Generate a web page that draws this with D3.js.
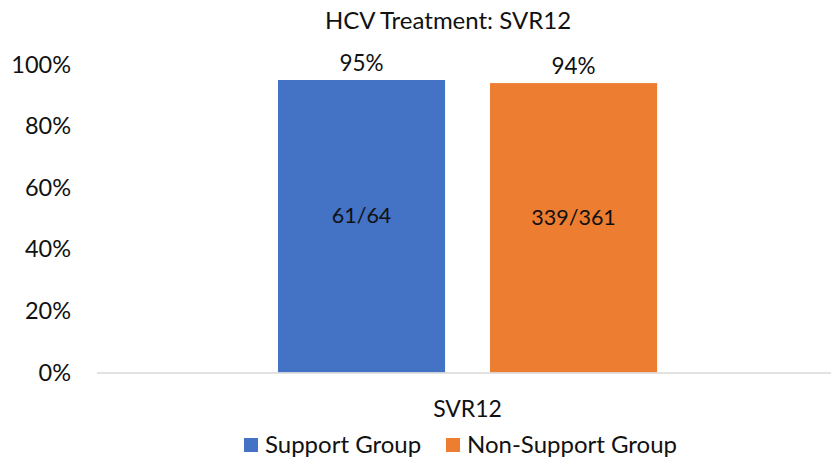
<!DOCTYPE html>
<html>
<head>
<meta charset="utf-8">
<script src="https://cdn.jsdelivr.net/npm/d3@7"></script>
<style>
  body { margin: 0; background: #fff; }
  svg text { font-family: Lato, "Open Sans", sans-serif; fill: #111; }
</style>
</head>
<body>
<svg width="831" height="457"></svg>
<script>
// chart data
var title = "HCV Treatment: SVR12";
var categories = ["SVR12"];
var seriesNames = ["Support Group", "Non-Support Group"];
var seriesValues = [0.95, 0.94];
var valueLabels = ["95%", "94%"];
var countLabels = ["61/64", "339/361"];
var yTicks = [0, 0.2, 0.4, 0.6, 0.8, 1.0];
var colors = ["#4472C4", "#ED7D31"];

var svg = d3.select("svg"),
    width = +svg.attr("width"),
    height = +svg.attr("height");

var x0 = d3.scaleBand()
    .domain(categories)
    .range([97, 831])
    .paddingInner(0)
    .paddingOuter(0.468)
    .align(0.51);

var x1 = d3.scaleBand()
    .domain(seriesNames)
    .range([0, x0.bandwidth()])
    .paddingInner(0.212)
    .paddingOuter(0);

var y = d3.scaleLinear()
    .domain([0, 1])
    .range([372.5, 64.6]);

var color = d3.scaleOrdinal().domain(seriesNames).range(colors);

// title
svg.append("text")
    .attr("x", 448)
    .attr("y", 29)
    .attr("text-anchor", "middle")
    .style("font-size", "24px")
    .text(title);

// y axis labels (no axis line, no gridlines)
var yAxis = d3.axisLeft(y)
    .tickValues(yTicks)
    .tickFormat(d3.format(".0%"))
    .tickSize(0)
    .tickPadding(0);

var yg = svg.append("g")
    .attr("transform", "translate(71,0)")
    .call(yAxis);
yg.select(".domain").remove();
yg.selectAll("text")
    .attr("fill", "#111")
    .style("font-size", "23.5px")
    .style("font-family", "Lato, sans-serif");

// bars
var data = seriesNames.map(function(s, i) {
    return {name: s, value: seriesValues[i], label: valueLabels[i], count: countLabels[i]};
});

var group = svg.append("g")
    .attr("transform", "translate(" + x0(categories[0]) + ",0)");

group.selectAll("rect")
    .data(data)
    .enter().append("rect")
    .attr("x", function(d) { return x1(d.name); })
    .attr("y", function(d) { return y(d.value); })
    .attr("width", x1.bandwidth())
    .attr("height", function(d) { return y(0) - y(d.value); })
    .attr("fill", function(d) { return color(d.name); });

// value labels above bars
group.selectAll(".val")
    .data(data)
    .enter().append("text")
    .attr("class", "val")
    .attr("x", function(d) { return x1(d.name) + x1.bandwidth() / 2; })
    .attr("y", function(d) { return y(d.value) - 9; })
    .attr("text-anchor", "middle")
    .style("font-size", "22.5px")
    .text(function(d) { return d.label; });

// count labels inside bars
group.selectAll(".cnt")
    .data(data)
    .enter().append("text")
    .attr("class", "cnt")
    .attr("x", function(d) { return x1(d.name) + x1.bandwidth() / 2; })
    .attr("y", function(d) { return y(d.value / 2) - 3; })
    .attr("text-anchor", "middle")
    .style("font-size", "21.5px")
    .text(function(d) { return d.count; });

// x axis baseline
svg.append("line")
    .attr("x1", x0.range()[0])
    .attr("x2", x0.range()[1])
    .attr("y1", y(0) + 0.5)
    .attr("y2", y(0) + 0.5)
    .attr("stroke", "#D9D9D9")
    .attr("stroke-width", 1.5);

// category label
svg.selectAll(".cat")
    .data(categories)
    .enter().append("text")
    .attr("class", "cat")
    .attr("x", function(d) { return x0(d) + x0.bandwidth() / 2; })
    .attr("y", 417)
    .attr("text-anchor", "middle")
    .style("font-size", "23px")
    .text(function(d) { return d; });

// legend
var legend = svg.append("g").attr("class", "legend");
var legendX = [244, 446];
var items = legend.selectAll("g")
    .data(seriesNames)
    .enter().append("g")
    .attr("transform", function(d, i) { return "translate(" + legendX[i] + ",438)"; });

items.append("rect")
    .attr("width", 14)
    .attr("height", 14)
    .attr("fill", function(d) { return color(d); });

items.append("text")
    .attr("x", 21)
    .attr("y", 14.5)
    .style("font-size", "24px")
    .text(function(d) { return d; });
</script>
</body>
</html>
